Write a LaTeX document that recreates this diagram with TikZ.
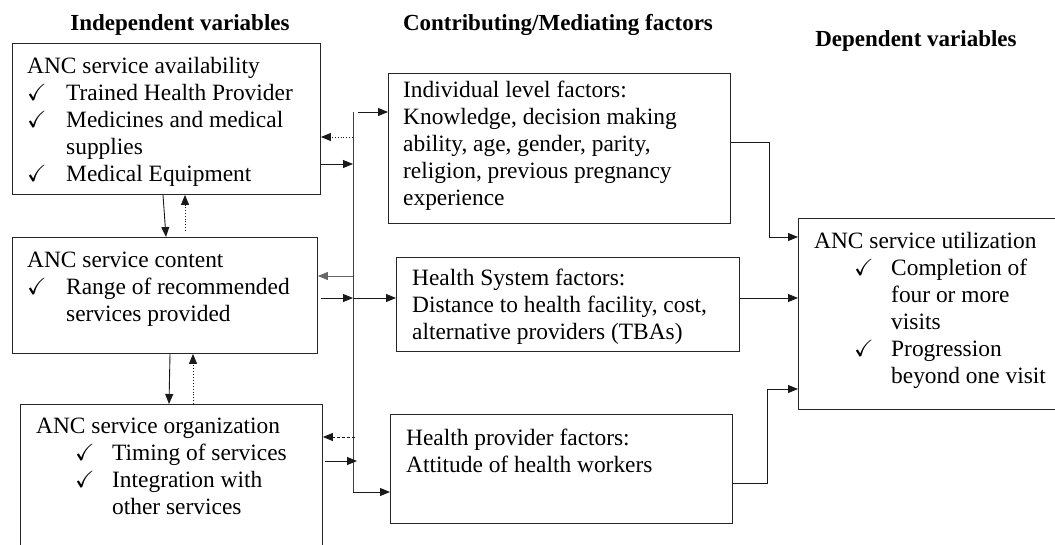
\documentclass[tikz,border=0pt]{standalone}
\usepackage{amssymb}
\usepackage{fontspec}
\setmainfont{Liberation Serif}
\usetikzlibrary{arrows.meta}
\newcommand{\ck}{$\checkmark$}
\begin{document}
\begin{tikzpicture}[x=1pt,y=1pt,
  box/.style={draw=black!85, line width=0.9pt, anchor=north west, inner sep=0pt},
  txt/.style={anchor=base west, inner sep=0pt, font=\fontsize{23.4}{27}\selectfont},
  ttl/.style={anchor=base, inner sep=0pt, font=\fontsize{23}{27}\selectfont\bfseries},
  arr/.style={line width=0.9pt, draw=black!90, -{Triangle[length=10pt,width=8pt]}},
  garr/.style={arr, draw=black!60},
  dotarr/.style={arr, dotted},
  dasharr/.style={arr, densely dashed},
  link/.style={line width=0.9pt, draw=black!75}
]
\useasboundingbox (0,0) rectangle (1055,-544);

% titles
\node[ttl] (t1) at (180,-30) {Independent variables};
\node[ttl] (t2) at (558,-30) {Contributing/Mediating factors};
\node[ttl] (t3) at (916,-46) {Dependent variables};

% left boxes
\node[box, minimum width=308pt, minimum height=151pt] (avail) at (12,-43) {};
\node[box, minimum width=305pt, minimum height=116pt] (cont) at (12,-237) {};
\node[box, minimum width=302pt, minimum height=150pt] (org) at (20,-404) {};

% middle boxes
\node[box, minimum width=342pt, minimum height=150pt] (ind) at (388,-73) {};
\node[box, minimum width=343pt, minimum height=94pt] (hs) at (396,-257) {};
\node[box, minimum width=342pt, minimum height=109pt] (hp) at (390,-414) {};

% right box
\node[box, minimum width=270pt, minimum height=191pt] (util) at (798,-218) {};

% texts
\node[txt] (availtxt) at (27,-73) {\begin{tabular}[t]{@{}p{39pt}@{}l@{}}
\multicolumn{2}{@{}l@{}}{ANC service availability}\\
\ck & Trained Health Provider\\
\ck & Medicines and medical\\
 & supplies\\
\ck & Medical Equipment
\end{tabular}};
\node[txt] (conttxt) at (27,-267) {\begin{tabular}[t]{@{}p{39pt}@{}l@{}}
\multicolumn{2}{@{}l@{}}{ANC service content}\\
\ck & Range of recommended\\
 & services provided
\end{tabular}};
\node[txt] (orgtxt) at (36,-433) {\begin{tabular}[t]{@{\hspace{39pt}}p{37pt}@{}l@{}}
\multicolumn{2}{@{}l@{}}{ANC service organization}\\
\ck & Timing of services\\
\ck & Integration with\\
 & other services
\end{tabular}};
\node[txt] (indtxt) at (403,-97) {\begin{tabular}[t]{@{}l@{}}
Individual level factors:\\
Knowledge, decision making\\
ability, age, gender, parity,\\
religion, previous pregnancy\\
experience
\end{tabular}};
\node[txt] (hstxt) at (412,-285) {\begin{tabular}[t]{@{}l@{}}
Health System factors:\\
Distance to health facility, cost,\\
alternative providers (TBAs)
\end{tabular}};
\node[txt] (hptxt) at (406,-445) {\begin{tabular}[t]{@{}l@{}}
Health provider factors:\\
Attitude of health workers
\end{tabular}};
\node[txt] (utiltxt) at (814,-248) {\begin{tabular}[t]{@{\hspace{40pt}}p{37pt}@{}l@{}}
\multicolumn{2}{@{}l@{}}{ANC service utilization}\\
\ck & Completion of\\
 & four or more\\
 & visits\\
\ck & Progression\\
 & beyond one visit
\end{tabular}};

% bus
\coordinate (bustop) at (353,-112);
\coordinate (busbot) at (353,-492);
\draw[link] (bustop) -- (busbot);
\draw[arr] (busbot) -- (hp.west |- busbot);
\draw[arr] (358,-112) -- (ind.west |- 0,-112);

% left box links to bus
\draw[dotarr] (bustop |- 0,-137) -- (avail.east |- 0,-137);
\draw[arr] (avail.east |- 0,-164) -- (bustop |- 0,-164);
\draw[garr] (bustop |- 0,-276) -- (cont.east |- 0,-276);
\draw[arr] (321,-298) -- (bustop |- 0,-298);
\draw[arr] (bustop |- 0,-298) -- (hs.west |- 0,-298);
\draw[dasharr] (355,-437) -- (org.east |- 0,-437);
\draw[arr] (325,-461) -- (357,-461);

% vertical links between left boxes
\draw[arr] (avail.south -| 163,0) -- (cont.north -| 166,0);
\draw[dotarr] (185,-231) -- (avail.south -| 185,0);
\draw[arr] (cont.south -| 170,0) -- (org.north -| 169,0);
\draw[dotarr] (org.north -| 193,0) -- (cont.south -| 193,0);

% links to dependent box
\draw[arr] (ind.east |- 0,-142) -| (769,-237) -- (util.west |- 0,-237);
\draw[arr] (hs.east |- 0,-298) -- (util.west |- 0,-298);
\draw[arr] (hp.east |- 0,-483) -| (767,-389) -- (util.west |- 0,-389);
\end{tikzpicture}
\end{document}
